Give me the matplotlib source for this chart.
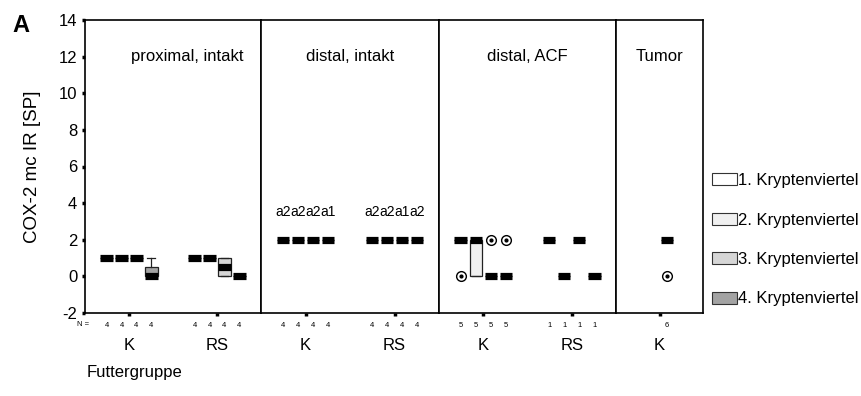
import matplotlib
matplotlib.use("Agg")
import matplotlib.pyplot as plt
from matplotlib.patches import Patch
from matplotlib.transforms import blended_transform_factory

plt.rcParams['font.family'] = ['Liberation Sans', 'DejaVu Sans']
plt.rcParams['axes.unicode_minus'] = False

panel_titles = ["proximal, intakt", "distal, intakt", "distal, ACF", "Tumor"]
panel_groups = [["K", "RS"], ["K", "RS"], ["K", "RS"], ["K"]]
quarter_names = ["1. Kryptenviertel", "2. Kryptenviertel",
                 "3. Kryptenviertel", "4. Kryptenviertel"]
quarter_colors = ["#ffffff", "#f0f0f0", "#d6d6d6", "#a3a3a3"]

# box statistics, listed group by group (K, RS), crypt quarter 1..4 within each group
prox_med = [1, 1, 1, 0, 1, 1, 0.5, 0]
prox_q1 = [1, 1, 1, 0, 1, 1, 0, 0]
prox_q3 = [1, 1, 1, 0.5, 1, 1, 1, 0]
prox_whishi = [1, 1, 1, 1, 1, 1, 1, 0]
prox_n = [4, 4, 4, 4, 4, 4, 4, 4]

dist_med = [2, 2, 2, 2, 2, 2, 2, 2]
dist_n = [4, 4, 4, 4, 4, 4, 4, 4]
dist_letters = ["a2", "a2", "a2", "a1", "a2", "a2", "a1", "a2"]

acf_med = [2, 2, 0, 0, 2, 0, 2, 0]
acf_q1 = [2, 0, 0, 0, 2, 0, 2, 0]
acf_q3 = [2, 2, 0, 0, 2, 0, 2, 0]
acf_fliers = [[0], [], [2], [2], [], [], [], []]
acf_n = [5, 5, 5, 5, 1, 1, 1, 1]

tumor_med = [2]
tumor_fliers = [[0]]
tumor_n = [6]
tumor_quarter = [3]

offsets = [-0.255, -0.085, 0.085, 0.255]


def make_stats(med, q1=None, q3=None, whishi=None, fliers=None):
    q1 = q1 if q1 is not None else med
    q3 = q3 if q3 is not None else med
    whishi = whishi if whishi is not None else q3
    fliers = fliers if fliers is not None else [[] for _ in med]
    out = []
    for m, a, b, hi, fl in zip(med, q1, q3, whishi, fliers):
        out.append(dict(med=m, q1=a, q3=b, whislo=a, whishi=hi, fliers=fl))
    return out


panel_stats = [
    make_stats(prox_med, prox_q1, prox_q3, prox_whishi),
    make_stats(dist_med),
    make_stats(acf_med, acf_q1, acf_q3, fliers=acf_fliers),
    make_stats(tumor_med, fliers=tumor_fliers),
]
panel_n = [prox_n, dist_n, acf_n, tumor_n]
panel_quarters = [[1, 2, 3, 4] * 2, [1, 2, 3, 4] * 2, [1, 2, 3, 4] * 2, tumor_quarter]

fig = plt.figure(figsize=(8.61, 3.96), dpi=100)
W, H = 861, 396
bounds_px = [(85, 261), (261, 439), (439, 616), (616, 703)]
top_px, bot_px = 20, 313

axes = []
for i, (x0, x1) in enumerate(bounds_px):
    ax = fig.add_axes([x0 / W, 1 - bot_px / H, (x1 - x0) / W, (bot_px - top_px) / H])
    axes.append(ax)
    groups = panel_groups[i]
    stats = panel_stats[i]
    quarters = panel_quarters[i]
    positions = [1 + k // 4 + offsets[q - 1] if len(groups) > 1 else 1 + offsets[q - 1]
                 for k, q in enumerate(quarters)]
    res = ax.bxp(stats, positions=positions, widths=0.14, patch_artist=True,
                 manage_ticks=False, capwidths=0.09,
                 boxprops=dict(edgecolor='#222222', linewidth=0.9),
                 medianprops=dict(color='black', linewidth=5.2, solid_capstyle='butt'),
                 whiskerprops=dict(color='#222222', linewidth=0.9),
                 capprops=dict(color='#222222', linewidth=0.9),
                 flierprops=dict(marker='o', markerfacecolor='white',
                                 markeredgecolor='black', markersize=7,
                                 markeredgewidth=1.0))
    for patch, q in zip(res['boxes'], quarters):
        patch.set_facecolor(quarter_colors[q - 1])
    # centre dot of the outlier symbols
    for pos, st in zip(positions, stats):
        if len(st['fliers']):
            ax.plot([pos] * len(st['fliers']), st['fliers'], linestyle='none',
                    marker='o', markersize=2, color='black')

    ax.set_ylim(-2, 14)
    ax.set_xlim(0.5, len(groups) + 0.5)
    ax.set_xticks(range(1, len(groups) + 1))
    ax.set_xticklabels(groups)
    ax.tick_params(axis='x', direction='out', length=2, width=2.5, pad=16,
                   labelsize=12)
    if i == 0:
        ax.set_yticks(range(-2, 15, 2))
        ax.tick_params(axis='y', direction='out', length=2.5, width=2.5, pad=3,
                       labelsize=12)
        ax.set_ylabel("COX-2 mc IR [SP]", fontsize=13.5, labelpad=13)
    else:
        ax.set_yticks([])
    for sp in ax.spines.values():
        sp.set_linewidth(1.2)
        sp.set_color('black')

    tx = 1.66 if i == 0 else (len(groups) + 1) / 2
    ax.text(tx, 12, panel_titles[i], ha='center', va='center', fontsize=12)

    btrans = blended_transform_factory(ax.transData, ax.transAxes)
    for pos, n in zip(positions, panel_n[i]):
        ax.text(pos, -0.041, str(n), transform=btrans, ha='center', va='center',
                fontsize=5.5)
    if i == 1:
        for pos, lab in zip(positions, dist_letters):
            ax.text(pos, 3.5, lab, ha='center', va='center', fontsize=10)

fig.text(83.5 / W, 1 - 325 / H, "N =", ha='center', va='center', fontsize=5.5)
fig.text(87 / W, 1 - 372 / H, "Futtergruppe", ha='left', va='center', fontsize=12)
fig.text(21 / W, 1 - 26 / H, "A", ha='center', va='center', fontsize=17,
         fontweight='bold')

handles = [Patch(facecolor=c, edgecolor='#333333', linewidth=0.8) for c in quarter_colors]
fig.legend(handles, quarter_names, loc='upper left', bbox_to_anchor=(712 / W, 1 - 173 / H),
           frameon=False, fontsize=12, handlelength=1.5, handleheight=0.75,
           handletextpad=0.05, labelspacing=1.47, borderaxespad=0, borderpad=0)

fig.savefig("out.png", dpi=100)
